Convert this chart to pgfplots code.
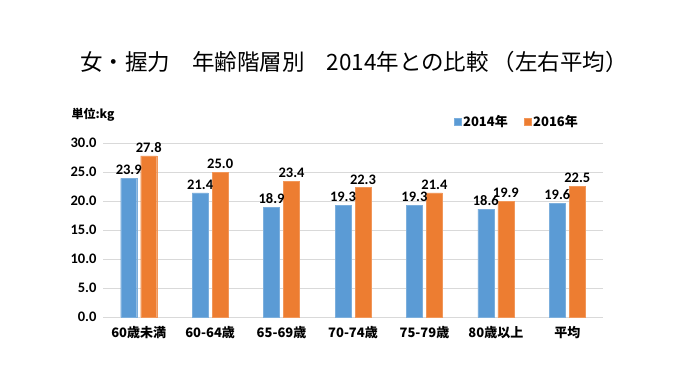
\documentclass[border=0pt]{standalone}
\usepackage{pgfplots}
\pgfplotsset{compat=1.18}
\usepackage{fontspec}
\setmainfont{Noto Sans CJK JP}
\newfontfamily\cjk{Noto Sans CJK JP}
\newfontfamily\num{Carlito}
\definecolor{c14}{HTML}{5B9BD5}
\definecolor{c16}{HTML}{ED7D31}
\definecolor{gridc}{HTML}{D9D9D9}
\begin{document}
\begin{tikzpicture}[x=1pt,y=1pt]
\path[fill=white] (0,0) rectangle (680,383);
\node[anchor=west,inner sep=0pt,font=\fontsize{22.5}{26}\selectfont] at (80,321) {女・握力\hspace{22pt}年齢階層別\hspace{22pt}2014年との比較\hspace{4pt}（左右平均）};
\node[anchor=west,font=\fontsize{12}{14}\selectfont\bfseries] at (68,268) {単位:kg};
\begin{axis}[
  at={(103pt,66pt)}, anchor=south west,
  scale only axis, width=500pt, height=174pt,
  xmin=-0.5, xmax=6.5, ymin=0, ymax=30,
  ybar=4pt, bar width=16pt,
  xtick={0,...,6},
  xticklabels={60歳未満,60-64歳,65-69歳,70-74歳,75-79歳,80歳以上,平均},
  xticklabel style={font=\fontsize{13}{15}\selectfont\bfseries, yshift=-6pt},
  ytick={0,5,...,30},
  yticklabel style={font=\num\fontsize{14.5}{16}\selectfont\bfseries, xshift=-3pt,
    /pgf/number format/.cd, fixed, fixed zerofill, precision=1, assume math mode=true},
  ymajorgrids, grid style={gridc, line width=0.9pt},
  axis line style={draw=none}, major tick length=0pt,
  nodes near coords,
  every node near coord/.append style={font=\num\fontsize{14.5}{16}\selectfont\bfseries, black,
    /pgf/number format/.cd, fixed, fixed zerofill, precision=1, assume math mode=true},
  legend style={at={(0.695,1.12)}, anchor=west, draw=none, fill=none,
    legend columns=2, font=\fontsize{13}{15}\selectfont\bfseries,
    /tikz/every even column/.append style={column sep=14pt}},
  legend image code/.code={\fill[#1] (0pt,-3.5pt) rectangle (7pt,3.5pt);},
]
\addplot[fill=c14, draw=c14!80!white] coordinates {(0,23.9) (1,21.4) (2,18.9) (3,19.3) (4,19.3) (5,18.6) (6,19.6)};
\addplot[fill=c16, draw=c16!80!white] coordinates {(0,27.8) (1,25.0) (2,23.4) (3,22.3) (4,21.4) (5,19.9) (6,22.5)};
\legend{2014年,2016年}
\end{axis}
\end{tikzpicture}
\end{document}
